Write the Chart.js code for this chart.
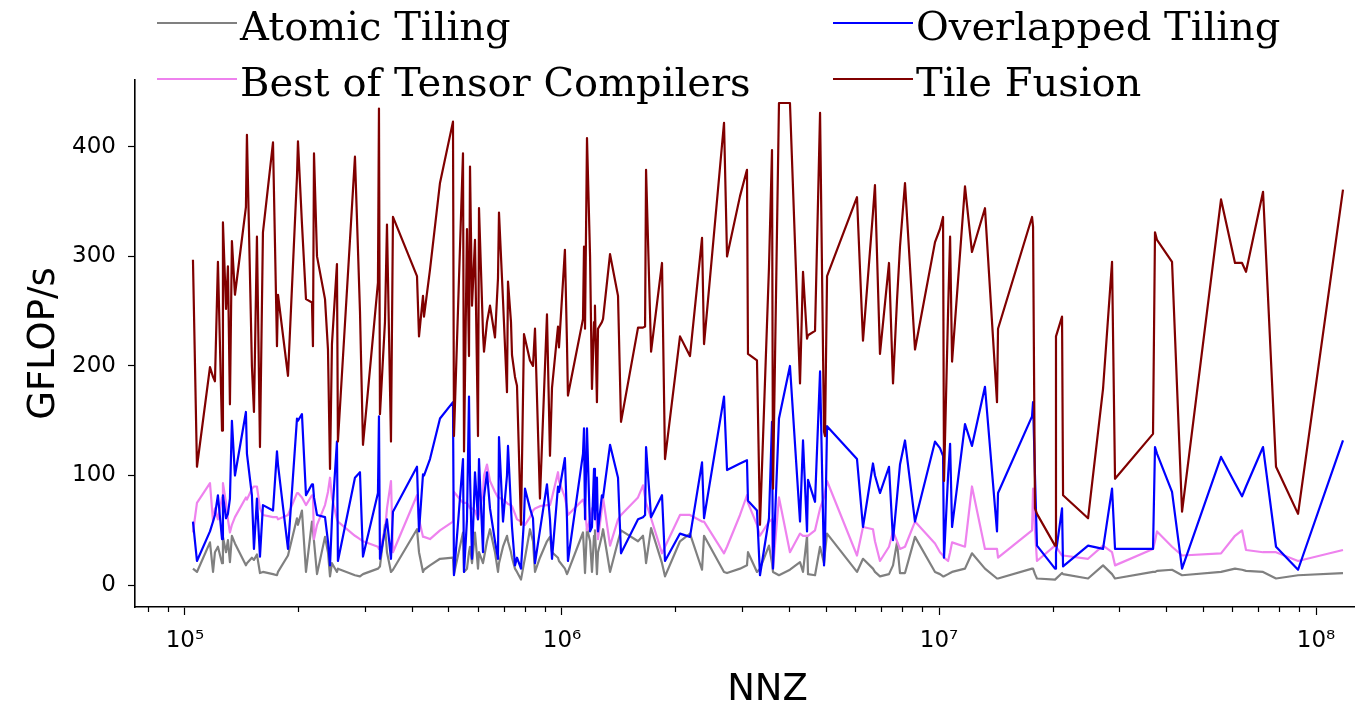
<!DOCTYPE html>
<html>
<head>
<meta charset="utf-8">
<title>GFLOP/s vs NNZ</title>
<script src="https://cdn.jsdelivr.net/npm/chart.js@4.4.1/dist/chart.umd.min.js"></script>
<style>
  html, body { margin: 0; padding: 0; background: #fff; overflow: hidden; }
  #wrap { position: relative; width: 1400px; height: 707px; }
  .legend-item {
    position: absolute; display: flex; align-items: center;
    font-family: 'DejaVu Serif', serif; font-size: 40px; line-height: 40px;
    color: #000; white-space: nowrap;
  }
  .legend-item .swatch { width: 80px; height: 0; border-top: 2px solid; margin-right: 3px; position: relative; top: -3px; }
</style>
</head>
<body>
<div id="wrap">
  <canvas id="perfChart"></canvas>
</div>
<script>
// matrix sizes (shared by all series)
const nnz = [
  105000, 107600, 116500, 118700, 120100, 122300, 125400, 126100, 128500, 130000,
  131600, 133200, 135700, 145100, 146000, 150500, 152400, 155200, 158100, 161000,
  171200, 175400, 176500, 187600, 198200, 199400, 204300, 209400, 217200, 218500,
  219900, 224000, 235200, 239500, 242500, 245400, 253000, 254500, 282400, 291200,
  296600, 325000, 327000, 329000, 339200, 343400, 351900, 356200, 412500, 417600,
  427900, 430500, 446600, 474700, 513900, 517000, 546300, 549700, 559800, 566700,
  570200, 577200, 587800, 598700, 602400, 617300, 621100, 632500, 644200, 664200,
  676500, 680600, 697500, 714700, 719100, 732400, 736900, 750500, 759700, 778500,
  792900, 797800, 822400, 837700, 848000, 874100, 912400, 929300, 940800, 975900,
  981800, 1018000, 1031000, 1037000, 1137000, 1144000, 1151000, 1165000, 1187000, 1201000,
  1216000, 1223000, 1238000, 1246000, 1276000, 1285000, 1341000, 1408000, 1434000, 1591000,
  1640000, 1661000, 1671000, 1723000, 1842000, 1876000, 2056000, 2185000, 2352000, 2381000,
  2690000, 2740000, 2966000, 3095000, 3114000, 3290000, 3351000, 3540000, 3606000, 3628000,
  3763000, 4024000, 4279000, 4358000, 4466000, 4493000, 4690000, 4836000, 4955000, 4985000,
  5047000, 6060000, 6286000, 6681000, 6763000, 6973000, 7368000, 7551000, 7737000, 7880000,
  8124000, 8636000, 9759000, 10060000, 10250000, 10310000, 10570000, 10700000, 10830000, 11720000,
  12230000, 13240000, 14250000, 14340000, 17650000, 17760000, 17970000, 18190000, 20310000, 20430000,
  21200000, 21330000, 24850000, 27230000, 28770000, 29300000, 36950000, 37400000, 37860000, 41500000,
  44120000, 55980000, 60970000, 63640000, 65210000, 72350000, 78320000, 89600000, 117900000
];

const atomicTiling = [
  15, 12, 39, 12, 30, 35, 20, 44, 30, 41,
  21, 45, 38, 18, 20, 25, 23, 28, 11, 12,
  10, 9, 12, 27, 61, 55, 68, 12, 58, 50,
  40, 10, 44, 30, 8, 20, 12, 15, 9, 8,
  10, 15, 16, 17, 55, 30, 12, 14, 51, 30,
  12, 14, 18, 24, 25, 10, 48, 12, 15, 30,
  35, 20, 48, 15, 30, 20, 25, 40, 51, 30,
  12, 20, 35, 45, 40, 30, 25, 15, 12, 5,
  20, 25, 51, 40, 12, 25, 40, 44, 30, 25,
  22, 15, 10, 12, 48, 30, 11, 52, 40, 12,
  45, 50, 10, 30, 45, 51, 12, 40, 50, 40,
  45, 30, 20, 52, 20, 8, 40, 47, 14, 45,
  12, 11, 15, 18, 30, 12, 15, 36, 20, 12,
  9, 14, 21, 12, 45, 10, 9, 35, 20, 30,
  47, 12, 24, 15, 12, 8, 10, 18, 39, 11,
  11, 44, 12, 10, 8, 8, 10, 11, 12, 15,
  29, 15, 6, 6, 15, 15, 10, 6, 5, 5,
  11, 10, 6, 18, 10, 6, 12, 12, 13, 14,
  9, 12, 15, 14, 13, 12, 6, 9, 11
];

const bestOfTensorCompilers = [
  48, 75, 93, 58, 70, 60, 80, 93, 75, 60,
  48, 55, 62, 80, 78, 88, 90, 90, 70, 64,
  62, 62, 60, 64, 84, 84, 80, 73, 82, 82,
  42, 55, 73, 85, 98, 80, 60, 58, 45, 42,
  40, 35, 33, 33, 50, 70, 95, 30, 82, 60,
  44, 44, 42, 50, 58, 85, 75, 75, 75, 72,
  70, 70, 68, 60, 65, 85, 100, 110, 95, 85,
  80, 80, 78, 75, 74, 73, 72, 65, 60, 58,
  55, 55, 62, 68, 70, 72, 73, 73, 80, 103,
  95, 80, 70, 64, 78, 75, 70, 50, 60, 70,
  72, 70, 55, 42, 70, 80, 36, 60, 64, 80,
  91, 80, 75, 61, 29, 35, 64, 64, 58, 58,
  29, 35, 64, 82, 75, 55, 45, 58, 60, 15,
  80, 30, 47, 45, 45, 45, 50, 70, 80, 85,
  95, 27, 53, 51, 40, 22, 35, 49, 40, 33,
  35, 58, 38, 30, 27, 25, 22, 30, 39, 35,
  90, 33, 33, 25, 50, 88, 50, 22, 36, 35,
  27, 27, 24, 36, 30, 18, 33, 40, 49, 35,
  27, 29, 45, 50, 32, 30, 30, 22, 32
];

const overlappedTiling = [
  58, 22, 49, 58, 64, 82, 42, 82, 61, 65,
  79, 150, 100, 158, 120, 82, 33, 79, 26, 73,
  68, 122, 110, 33, 152, 150, 156, 82, 92, 92,
  80, 64, 62, 40, 18, 60, 131, 22, 98, 103,
  26, 84, 154, 24, 50, 60, 24, 67, 108, 49,
  101, 100, 115, 152, 167, 9, 115, 12, 60, 172,
  100, 24, 103, 60, 115, 30, 80, 103, 70, 40,
  24, 135, 58, 100, 127, 70, 53, 18, 25, 15,
  60, 88, 70, 61, 20, 50, 92, 60, 24, 90,
  85, 116, 60, 22, 120, 143, 60, 143, 49, 53,
  106, 60, 98, 49, 82, 80, 128, 98, 29, 60,
  62, 64, 126, 62, 82, 22, 47, 44, 112, 61,
  172, 105, 111, 114, 77, 68, 9, 61, 149, 15,
  152, 200, 58, 132, 49, 96, 76, 195, 18, 40,
  145, 115, 53, 111, 100, 84, 108, 41, 80, 110,
  132, 58, 131, 125, 118, 25, 100, 129, 53, 147,
  127, 181, 49, 84, 154, 167, 100, 36, 15, 30,
  70, 17, 36, 33, 88, 33, 33, 126, 120, 85,
  15, 117, 93, 81, 90, 126, 35, 14, 132
];

const tileFusion = [
  297, 108, 199, 190, 186, 295, 141, 331, 252, 291,
  165, 314, 265, 345, 411, 200, 158, 318, 126, 322,
  404, 218, 265, 191, 373, 405, 330, 261, 258, 218,
  394, 300, 261, 215, 106, 220, 293, 131, 391, 250,
  128, 276, 435, 156, 240, 329, 131, 336, 282, 227,
  264, 245, 288, 367, 423, 136, 394, 122, 325, 209,
  382, 255, 315, 136, 344, 230, 213, 240, 255, 226,
  280, 340, 260, 176, 277, 240, 210, 190, 182, 55,
  229, 225, 205, 200, 234, 79, 247, 118, 180, 236,
  217, 306, 220, 173, 243, 309, 234, 408, 300, 179,
  240, 255, 167, 234, 240, 243, 302, 264, 149, 235,
  235, 236, 379, 213, 294, 115, 227, 209, 317, 220,
  422, 300, 355, 379, 211, 205, 55, 290, 397, 88,
  440, 440, 184, 286, 225, 228, 232, 431, 140, 136,
  282, 354, 223, 340, 365, 211, 294, 184, 260, 309,
  367, 215, 313, 325, 336, 95, 250, 318, 204, 364,
  304, 344, 167, 234, 336, 327, 70, 65, 36, 227,
  245, 82, 61, 179, 295, 97, 138, 322, 315, 295,
  67, 352, 294, 294, 286, 359, 108, 65, 361
];

const yTicks = [0, 100, 200, 300, 400];
const xMajorTicks = [1e5, 1e6, 1e7, 1e8];
const xTickLabels = ['10\u2075', '10\u2076', '10\u2077', '10\u2078'];
const xMinorTicks = [
  8e4, 9e4,
  2e5, 3e5, 4e5, 5e5, 6e5, 7e5, 8e5, 9e5,
  2e6, 3e6, 4e6, 5e6, 6e6, 7e6, 8e6, 9e6,
  2e7, 3e7, 4e7, 5e7, 6e7, 7e7, 8e7, 9e7
];

const series = [
  { label: 'Atomic Tiling', values: atomicTiling, color: 'gray' },
  { label: 'Best of Tensor Compilers', values: bestOfTensorCompilers, color: 'violet' },
  { label: 'Overlapped Tiling', values: overlappedTiling, color: 'blue' },
  { label: 'Tile Fusion', values: tileFusion, color: '#800000' }
];

Chart.defaults.font.family = "'DejaVu Sans', sans-serif";
Chart.defaults.color = '#000';

// short minor ticks on the log axis
const minorTicks = {
  id: 'minorTicks',
  afterDraw(chart) {
    const xs = chart.scales.x;
    const ctx = chart.ctx;
    ctx.save();
    ctx.strokeStyle = '#000';
    ctx.lineWidth = 1.2;
    xMinorTicks.forEach(v => {
      if (v < xs.min || v > xs.max) return;
      const px = Math.round(xs.getPixelForValue(v)) + 0.5;
      ctx.beginPath();
      ctx.moveTo(px, xs.top);
      ctx.lineTo(px, xs.top + 5);
      ctx.stroke();
    });
    ctx.restore();
  }
};

new Chart(document.getElementById('perfChart'), {
  type: 'line',
  data: {
    datasets: series.map((s, i) => ({
      label: s.label,
      data: nnz.map((x, j) => ({ x: x, y: s.values[j] })),
      borderColor: s.color,
      backgroundColor: s.color,
      borderWidth: 2.2,
      pointRadius: 0,
      tension: 0,
      borderJoinStyle: 'round',
      order: series.length - i
    }))
  },
  options: {
    responsive: true,
    maintainAspectRatio: false,
    animation: false,
    layout: { padding: { top: 80, left: 0, right: 0, bottom: 0 } },
    plugins: {
      legend: { display: false },
      tooltip: { enabled: false }
    },
    scales: {
      x: {
        type: 'logarithmic',
        min: 73700,
        max: 167000000,
        afterBuildTicks: scale => { scale.ticks = xMajorTicks.map(v => ({ value: v, major: true })); },
        afterFit: scale => { scale.height = 100; },
        grid: { display: true, drawOnChartArea: false, drawTicks: true, tickLength: 8, tickColor: '#000', tickWidth: 1.2 },
        border: { display: true, color: '#000', width: 1.6 },
        ticks: {
          autoSkip: false,
          maxRotation: 0,
          padding: 12,
          font: { size: 23 },
          callback: (value, index) => xTickLabels[index]
        },
        title: {
          display: true,
          text: 'NNZ',
          font: { size: 37, lineHeight: 1 },
          padding: { top: 0, bottom: -2 }
        }
      },
      y: {
        min: -20,
        max: 461,
        afterBuildTicks: scale => { scale.ticks = yTicks.map(v => ({ value: v })); },
        afterFit: scale => { scale.width = 135; },
        grid: { display: true, drawOnChartArea: false, drawTicks: true, tickLength: 7, tickColor: '#000', tickWidth: 1.2 },
        border: { display: true, color: '#000', width: 1.6 },
        ticks: {
          padding: 12,
          font: { size: 23 }
        },
        title: {
          display: true,
          text: 'GFLOP/s',
          font: { size: 37, lineHeight: 1 },
          padding: { top: 26, bottom: 0 }
        }
      }
    }
  },
  plugins: [minorTicks]
});

// two-column legend above the axes
const wrap = document.getElementById('wrap');
const legendCols = [157, 833];
const legendRows = [6, 62];
series.forEach((s, i) => {
  const item = document.createElement('div');
  item.className = 'legend-item';
  item.style.left = legendCols[Math.floor(i / 2)] + 'px';
  item.style.top = legendRows[i % 2] + 'px';
  const sw = document.createElement('span');
  sw.className = 'swatch';
  sw.style.borderTopColor = s.color;
  const txt = document.createElement('span');
  txt.textContent = s.label;
  item.appendChild(sw);
  item.appendChild(txt);
  wrap.appendChild(item);
});
</script>
</body>
</html>
